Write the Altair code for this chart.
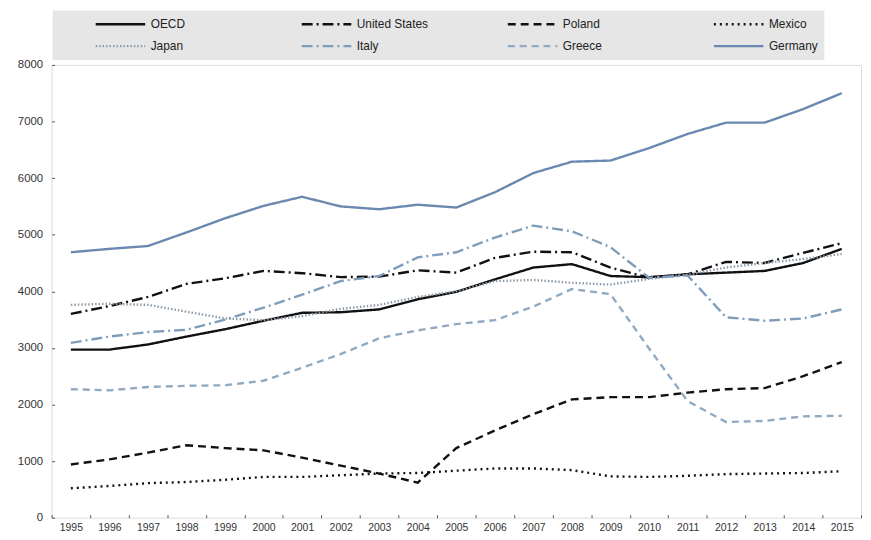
import altair as alt
import pandas as pd

years = list(range(1995, 2016))

oecd = [2970, 2970, 3060, 3200, 3330, 3480, 3620, 3630, 3680, 3860, 3990, 4210, 4420, 4480, 4270, 4250, 4300, 4330, 4360, 4500, 4750]
united_states = [3600, 3740, 3900, 4130, 4230, 4360, 4320, 4250, 4260, 4370, 4330, 4590, 4700, 4690, 4420, 4240, 4300, 4520, 4500, 4680, 4850]
poland = [940, 1030, 1150, 1280, 1230, 1190, 1060, 920, 780, 620, 1230, 1540, 1830, 2090, 2130, 2130, 2210, 2270, 2290, 2500, 2750]
mexico = [520, 560, 610, 630, 670, 720, 720, 750, 780, 790, 830, 870, 870, 840, 730, 720, 740, 770, 780, 790, 820]
japan = [3760, 3780, 3760, 3640, 3520, 3490, 3560, 3690, 3760, 3900, 4000, 4180, 4200, 4150, 4120, 4220, 4290, 4420, 4500, 4570, 4660]
italy = [3090, 3200, 3280, 3320, 3500, 3710, 3940, 4180, 4270, 4600, 4690, 4950, 5160, 5060, 4780, 4240, 4280, 3540, 3480, 3520, 3680]
greece = [2270, 2250, 2310, 2330, 2340, 2420, 2650, 2890, 3170, 3310, 3420, 3490, 3730, 4040, 3950, 2990, 2060, 1690, 1710, 1790, 1800]
germany = [4690, 4750, 4800, 5040, 5290, 5510, 5670, 5500, 5450, 5530, 5480, 5750, 6090, 6290, 6310, 6530, 6780, 6980, 6980, 7220, 7500]

series = ["OECD", "United States", "Poland", "Mexico", "Japan", "Italy", "Greece", "Germany"]
values = [oecd, united_states, poland, mexico, japan, italy, greece, germany]

colors = ["#111111", "#111111", "#111111", "#111111", "#8d9aa6", "#7f9dbb", "#90aac2", "#6a89b1"]
dashes = [[1, 0], [11, 4, 2, 4], [8, 5], [2, 4], [1.5, 2], [11, 4, 2, 4], [7, 5], [1, 0]]
widths = [2.4, 2.4, 2.4, 2.4, 1.6, 2.0, 2.0, 2.0]

rows = []
for name, vals in zip(series, values):
    for y, v in zip(years, vals):
        rows.append({"year": str(y), "value": v, "series": name})
df = pd.DataFrame(rows)

font = "Liberation Sans"

legend = alt.Legend(
    title=None, orient="none", legendX=1, legendY=-55, direction="horizontal",
    columns=4, gridAlign="all", columnPadding=42, rowPadding=6,
    symbolType="stroke", symbolSize=2500, symbolOffset=36, clipHeight=16,
    labelFont=font, labelFontSize=12, labelColor="#222", labelOffset=4,
    fillColor="#e6e6e6", padding=6, symbolStrokeWidth=2.2,
)

chart = alt.Chart(df).mark_line().encode(
    x=alt.X("year:O", title=None, bandPosition=0.5,
            scale=alt.Scale(type="band", paddingInner=0, paddingOuter=0),
            axis=alt.Axis(labelAngle=0, tickBand="extent", offset=-3, tickSize=3,
                          domain=False, labelPadding=5, tickColor="#555",
                          labelFont=font, labelFontSize=10.5, labelColor="#333")),
    y=alt.Y("value:Q", title=None,
            scale=alt.Scale(domain=[0, 8000], nice=False),
            axis=alt.Axis(values=list(range(0, 8001, 1000)), format="d", offset=-3, tickSize=3,
                          domain=False, grid=False, labelPadding=9, tickColor="#555",
                          labelFont=font, labelFontSize=11.5, labelColor="#333")),
    color=alt.Color("series:N", scale=alt.Scale(domain=series, range=colors), legend=legend),
    strokeDash=alt.StrokeDash("series:N", scale=alt.Scale(domain=series, range=dashes), legend=legend),
    strokeWidth=alt.StrokeWidth("series:N", scale=alt.Scale(domain=series, range=widths), legend=legend),
).properties(
    width=817, height=457,
    autosize=alt.AutoSizeParams(type="none"),
    padding={"left": 44, "top": 55, "right": 2, "bottom": 12},
).configure_view(
    fill="#f5fafd", stroke="#666666", strokeWidth=1.5,
).configure(background="white")

chart.save("out.html", embed_options={"renderer": "svg", "actions": False})
